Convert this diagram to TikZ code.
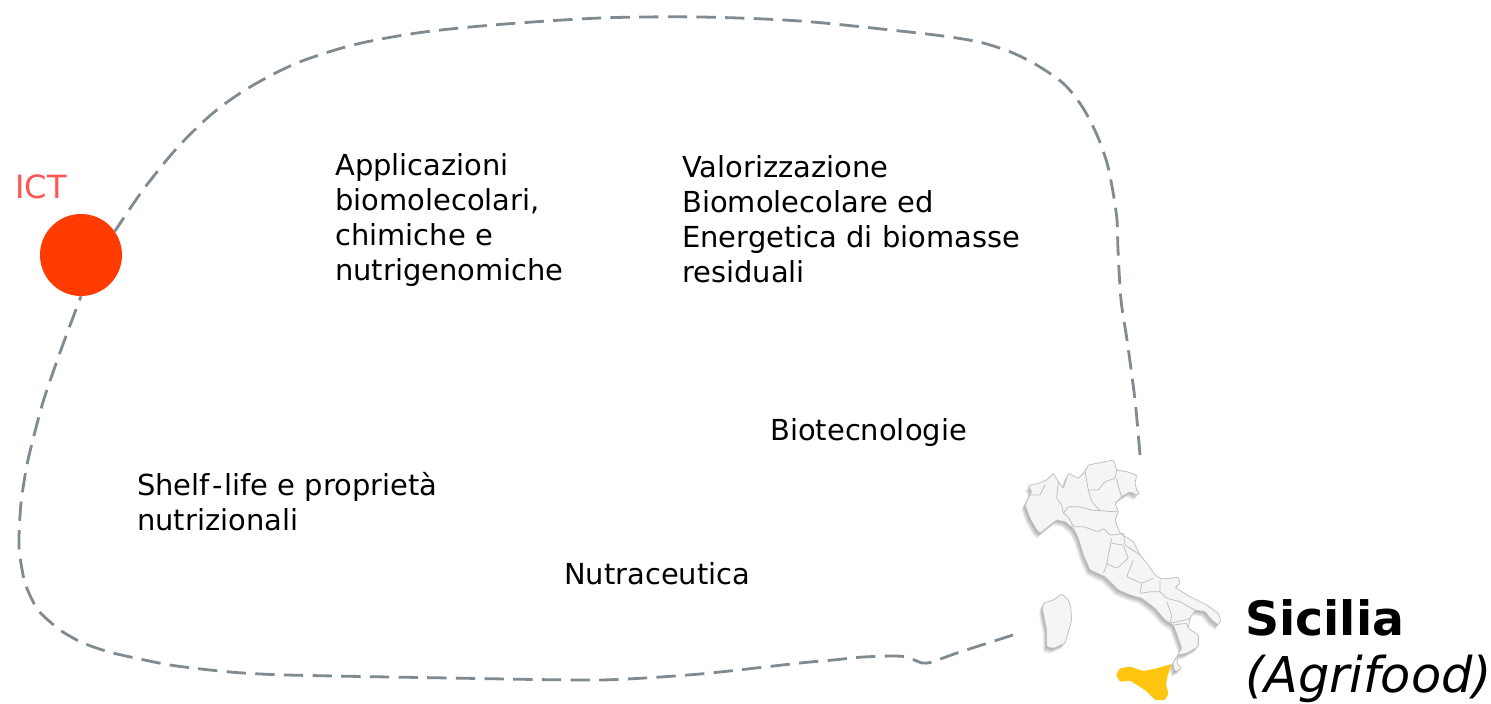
\documentclass[tikz,border=0pt]{standalone}
\usepackage{fontspec}
\setmainfont{DejaVu Sans}
\begin{document}
\begin{tikzpicture}[x=0.75pt,y=-0.75pt,
  lab/.style={anchor=north west,inner sep=0pt,align=left,font=\fontsize{21.7}{26.25}\selectfont,text=black},
  border/.style={draw=black!24,line width=0.6pt,fill=black!4,line join=round,rounded corners=0.8pt},
  inner/.style={draw=black!26,line width=0.55pt,line join=round,rounded corners=0.8pt},
  loop/.style={draw=loopgray,line width=2.1pt,dash pattern=on 14.5pt off 7pt}]
\definecolor{loopgray}{HTML}{7F8B90}
\definecolor{dotred}{HTML}{FF3B00}
\definecolor{ictred}{HTML}{FF5555}
\definecolor{sicily}{HTML}{FFC50F}
\useasboundingbox (0,0) rectangle (1491,703);
\fill[white] (0,0) rectangle (1491,703);
% map
\def\italy{(75,195)--(85,175)--(95,155)--(85,137)--(115,130)--(140,120)--(160,100)--(175,125)--(190,145)--(205,100)--(235,115)--(255,95)--(265,75)--(305,67)--(340,60)--(350,90)--(380,95)--(410,105)--(405,130)--(410,150)--(418,160)--(410,165)--(390,155)--(365,170)--(345,190)--(355,215)--(345,240)--(360,280)--(400,305)--(420,345)--(445,375)--(465,405)--(485,417)--(535,412)--(540,430)--(525,442)--(570,470)--(620,495)--(655,520)--(662,540)--(655,555)--(635,540)--(615,515)--(585,510)--(570,535)--(565,565)--(595,585)--(595,620)--(560,640)--(535,645)--(530,670)--(545,685)--(525,695)--(518,670)--(545,625)--(535,595)--(520,555)--(495,540)--(465,505)--(425,475)--(390,465)--(355,450)--(315,410)--(270,390)--(250,345)--(235,295)--(220,265)--(195,245)--(170,240)--(145,260)--(120,280)--(110,270)--(90,235)--cycle}
\def\sardinia{(130,490)--(160,480)--(185,462)--(205,480)--(212,500)--(215,540)--(205,575)--(195,610)--(160,625)--(140,620)--(140,570)--(128,510)--cycle}
\begin{scope}[shift={(1000,440)},x=0.25pt,y=-0.25pt]
  \foreach \d in {16,14,12,10,8,6,4,2}{
    \fill[black,opacity=0.045,shift={(-0.7*\d,\d)}] \italy;
    \fill[black,opacity=0.045,shift={(-0.7*\d,\d)}] \sardinia;
  }
  \draw[border] \italy;
  \draw[border] \sardinia;
  \draw[inner] (85,165)--(120,165)--(135,135);
  \draw[inner] (175,125)--(170,175)--(185,195)--(190,220)--(205,230)--(220,260)--(250,260)--(295,275)--(310,265)--(330,285)--(340,285)--(370,280);
  \draw[inner] (255,95)--(265,150)--(275,185)--(300,212);
  \draw[inner] (265,150)--(295,150)--(315,125)--(345,115)--(350,90);
  \draw[inner] (350,115)--(355,140)--(365,170);
  \draw[inner] (190,220)--(205,200)--(235,200)--(275,210)--(340,215)--(355,215);
  \draw[inner] (335,295)--(325,345)--(320,375)--(310,400);
  \draw[inner] (335,310)--(370,315)--(385,355)--(350,385)--(320,370);
  \draw[inner] (370,280)--(375,315)--(420,345);
  \draw[inner] (400,360)--(380,410)--(425,430)--(460,415);
  \draw[inner] (425,430)--(420,460)--(455,455)--(480,455)--(480,420);
  \draw[inner] (480,455)--(500,475)--(540,485)--(565,500)--(585,510);
  \draw[inner] (500,485)--(515,525)--(510,550)--(555,540)--(570,535);
  \draw[inner] (520,555)--(560,550)--(565,565);
  \fill[sicily,line join=round,rounded corners=0.8pt] (348,705)--(360,685)--(390,680)--(430,693)--(470,685)--(515,672)--(502,710)--(498,735)--(505,760)--(495,780)--(465,780)--(435,750)--(390,722)--(360,725)--cycle;
\end{scope}
\node[circle,fill=dotred,minimum size=61.5pt,inner sep=0pt] (ictdot) at (81,255) {};
\coordinate (topend) at (1140,455);
\coordinate (botend) at (1013,635);
\draw[loop] plot[smooth,tension=0.5] coordinates {(topend) (1135,400) (1127,340) (1121,300) (1118,250) (1117,220) (1113,192) (1107,163) (1097,135) (1083,108) (1065,85) (1040,67) (1013,53) (983,43) (950,37) (900,31) (800,21) (700,17) (600,18) (493,25) (417,33) (353,45) (297,63) (250,87) (213,113) (177,148) (143,190) (ictdot.35)};
\draw[loop] plot[smooth,tension=0.4] coordinates {(botend) (957,653) (932,662) (922,663) (907,657) (893,656) (863,657) (833,660) (800,663) (700,674) (600,680) (450,678) (287,675) (230,672) (170,665) (113,653) (83,643) (60,630) (38,610) (25,583) (19,547) (21,503) (28,460) (43,402) (62,347) (ictdot.south)};
\node[anchor=center,inner sep=0pt,text=ictred,font=\fontsize{24}{28}\selectfont] (ict) at (41,187) {ICT};
\node[lab] (a) at (335,153) {Applicazioni\\biomolecolari,\\chimiche e\\nutrigenomiche};
\node[lab] (b) at (682,155) {Valorizzazione\\Biomolecolare ed\\Energetica di biomasse\\residuali};
\node[lab] (c) at (770,418) {Biotecnologie};
\node[lab] (d) at (137,472) {Shelf\kern1.5pt-\kern1.5pt life e proprietà\\nutrizionali};
\node[lab] (e) at (564,562) {Nutraceutica};
\node[anchor=base west,inner sep=0pt,font=\fontsize{35.5}{43}\selectfont\bfseries] (s1) at (1245,635) {Sicilia};
\node[anchor=base west,inner sep=0pt,font=\fontsize{37}{43}\selectfont\itshape] (s2) at (1245,692) {(Agrifood)};
\end{tikzpicture}
\end{document}
